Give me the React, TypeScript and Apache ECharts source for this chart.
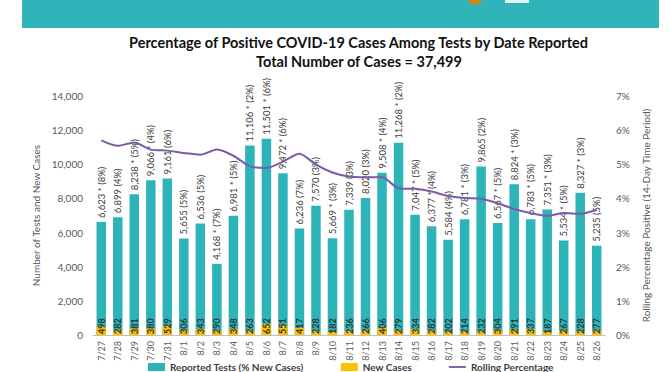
import React, { useEffect, useRef } from "react";
import * as echarts from "echarts";

const dates = ["7/27","7/28","7/29","7/30","7/31","8/1","8/2","8/3","8/4","8/5","8/6","8/7","8/8","8/9","8/10","8/11","8/12","8/13","8/14","8/15","8/16","8/17","8/18","8/19","8/20","8/21","8/22","8/23","8/24","8/25","8/26"];
const reportedTests = [6623,6899,8238,9066,9161,5655,6536,4168,6981,11106,11501,9472,6236,7570,5669,7339,8020,9508,11268,7047,6377,5584,6781,9865,6567,8824,6783,7351,5534,8327,5235];
const starred = [true,false,true,true,false,false,false,true,true,true,true,true,false,false,true,false,false,true,true,true,true,false,true,false,true,true,true,true,true,true,false];
const pctNew = [8,4,5,4,6,5,5,7,5,2,6,6,7,3,3,3,3,4,2,5,4,4,3,2,5,3,5,3,5,3,5];
const newCases = [498,282,381,380,529,306,343,290,348,263,652,551,417,228,182,236,266,406,279,334,282,202,214,232,304,291,337,187,267,228,277];
const rollingPct = [5.70,5.54,5.64,5.43,5.40,5.33,5.28,5.43,5.25,4.94,4.89,5.08,5.31,4.99,4.76,4.64,4.62,4.62,4.30,4.28,4.20,4.07,4.01,3.99,3.86,3.69,3.57,3.49,3.57,3.55,3.67];
const leftTicks = { min: 0, max: 14000, interval: 2000 };
const rightTicks = { min: 0, max: 7, interval: 1 };

const FONT = "Lato, 'Liberation Sans', sans-serif";
const TEAL = "#2DB4B9";
const ORANGE = "#FFC000";
const PURPLE = "#7C5BA8";

export default function App() {
  const ref = useRef<HTMLDivElement>(null);
  useEffect(() => {
    if (!ref.current) return;
    const chart = echarts.init(ref.current, null, { renderer: "svg" });
    chart.setOption({
      animation: false,
      backgroundColor: "#ffffff",
      textStyle: { fontFamily: FONT },
      graphic: [
        { type: "rect", shape: { x: 22, y: 0, width: 637, height: 28 }, style: { fill: "#30B4BA" }, silent: true },
        { type: "circle", shape: { cx: 475, cy: -2, r: 7 }, style: { fill: "#C98A1E" }, silent: true },
        { type: "rect", shape: { x: 505, y: 0, width: 24, height: 3 }, style: { fill: "#E8F4F4" }, silent: true },
      ],
      title: [
        {
          text: "Percentage of Positive COVID-19 Cases Among Tests by Date Reported",
          left: 124,
          top: 30,
          textStyle: { fontFamily: FONT, fontSize: 14.5, fontWeight: "bold", color: "#111" },
        },
        {
          text: "Total Number of Cases = 37,499",
          left: 251,
          top: 49,
          textStyle: { fontFamily: FONT, fontSize: 14.5, fontWeight: "bold", color: "#111" },
        },
      ],
      legend: {
        top: 357,
        left: 143,
        itemWidth: 17,
        itemHeight: 8,
        itemGap: 37,
        symbolKeepAspect: true,
        textStyle: { fontFamily: FONT, fontSize: 10, fontWeight: "bold", color: "#404040" },
        data: [
          { name: "Reported Tests (% New Cases)", icon: "rect" },
          { name: "New Cases", icon: "rect" },
          { name: "Rolling Percentage", icon: "path://M0,0H20V2.2H0Z", itemStyle: { color: PURPLE } },
        ],
      },
      grid: { left: 93, right: 67, top: 96, bottom: 37 },
      xAxis: {
        type: "category",
        data: dates,
        axisLine: { lineStyle: { color: "#BFBFBF" } },
        axisTick: { show: false },
        axisLabel: { rotate: 90, fontSize: 9, color: "#595959", fontFamily: FONT, interval: 0, margin: 6 },
      },
      yAxis: [
        {
          type: "value",
          ...leftTicks,
          name: "Number of Tests and New Cases",
          nameLocation: "middle",
          nameGap: 33,
          nameTextStyle: { fontSize: 10, color: "#595959", fontFamily: FONT },
          splitLine: { show: false },
          axisLine: { show: false },
          axisTick: { show: false },
          axisLabel: {
            fontSize: 10,
            color: "#595959",
            fontFamily: FONT,
            margin: 10,
            formatter: (v: number) => v.toLocaleString("en-US"),
          },
        },
        {
          type: "value",
          ...rightTicks,
          position: "right",
          name: "Rolling Percentage Positive (14-Day Time Period)",
          nameLocation: "middle",
          nameGap: 29,
          nameRotate: 90,
          nameTextStyle: { fontSize: 10, color: "#595959", fontFamily: FONT },
          splitLine: { show: false },
          axisLine: { show: false },
          axisTick: { show: false },
          axisLabel: { fontSize: 10, color: "#595959", fontFamily: FONT, margin: 11, formatter: "{value}%" },
        },
      ],
      series: [
        {
          name: "Reported Tests (% New Cases)",
          type: "bar",
          data: reportedTests,
          barWidth: 9.5,
          barGap: "-100%",
          itemStyle: { color: TEAL },
          label: {
            show: true,
            position: "top",
            rotate: 90,
            align: "left",
            verticalAlign: "middle",
            distance: 4,
            fontSize: 9.5,
            color: "#404040",
            fontFamily: FONT,
            formatter: (p: any) =>
              reportedTests[p.dataIndex].toLocaleString("en-US") +
              (starred[p.dataIndex] ? " *" : "") +
              " (" + pctNew[p.dataIndex] + "%)",
          },
        },
        {
          name: "New Cases",
          type: "bar",
          data: newCases,
          barWidth: 9.5,
          barGap: "-100%",
          itemStyle: { color: ORANGE },
          label: {
            show: true,
            position: "insideBottom",
            rotate: 90,
            align: "left",
            verticalAlign: "middle",
            distance: 1,
            fontSize: 9,
            fontWeight: "bold",
            color: "#333",
            fontFamily: FONT,
          },
        },
        {
          name: "Rolling Percentage",
          type: "line",
          yAxisIndex: 1,
          data: rollingPct,
          smooth: 0.25,
          symbol: "none",
          lineStyle: { color: PURPLE, width: 2 },
          itemStyle: { color: PURPLE },
        },
      ],
    });
    return () => chart.dispose();
  }, []);
  return <div ref={ref} style={{ position: "absolute", left: 0, top: 0, width: 672, height: 372 }} />;
}
